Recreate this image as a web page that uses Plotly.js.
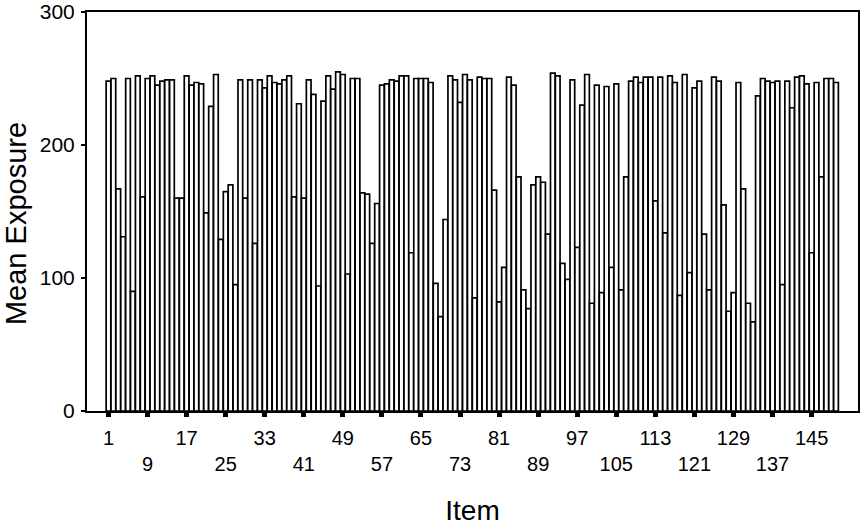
<!DOCTYPE html>
<html>
<head>
<meta charset="utf-8">
<script src="https://cdn.plot.ly/plotly-3.0.1.min.js"></script>
<style>html,body{margin:0;padding:0;background:#fff;}#chart{width:862px;height:532px;}</style>
</head>
<body>
<div id="chart"></div>
<script>
const meanExposure = [
  248,250,167,131,250,90,252,161,250,252,
  245,248,249,249,160,160,252,245,247,246,
  149,229,253,129,165,170,95,249,160,249,
  126,249,243,252,247,246,249,252,161,231,
  160,249,238,94,233,252,242,255,253,103,
  250,250,164,163,126,156,245,246,249,248,
  252,252,119,250,250,250,247,96,71,144,
  252,249,232,253,249,85,251,250,250,166,
  82,108,251,245,176,91,77,170,176,172,
  133,254,252,111,99,249,123,230,253,81,
  245,89,244,108,246,91,176,248,251,247,
  251,251,158,251,134,252,247,87,253,104,
  243,248,133,91,251,248,155,75,89,247,
  167,81,67,237,250,248,247,248,95,248,
  228,251,252,246,119,247,176,250,250,247
];
const items = meanExposure.map((_, i) => i + 1);
const xTickValues = [1,9,17,25,33,41,49,57,65,73,81,89,97,105,113,121,129,137,145];
const xTickLabels = ["1","9","17","25","33","41","49","57","65","73","81","89","97","105","113","121","129","137","145"];
const yTickValues = [0,100,200,300];
const xTitle = "Item";
const yTitle = "Mean Exposure";

const staggered = xTickLabels.map((t, i) => (i % 2 === 0 ? t : "<br>" + t));

const trace = {
  type: "bar",
  x: items,
  y: meanExposure,
  marker: { color: "#ffffff", line: { color: "#000000", width: 1.7 } },
  hoverinfo: "x+y"
};

const layout = {
  width: 862,
  height: 532,
  margin: { l: 87, r: 4, t: 12, b: 121 },
  paper_bgcolor: "#ffffff",
  plot_bgcolor: "#ffffff",
  showlegend: false,
  bargap: 0.04,
  font: { family: "Liberation Sans, Arial, sans-serif", color: "#000000", size: 20 },
  xaxis: {
    range: [-3.4, 154.5],
    tickmode: "array",
    tickvals: xTickValues,
    ticktext: staggered,
    ticks: "outside",
    ticklen: 4,
    tickwidth: 5,
    tickcolor: "#000000",
    ticklabelstandoff: 4,
    showgrid: false,
    zeroline: false,
    showline: true,
    linecolor: "#000000",
    linewidth: 2,
    mirror: true,
    tickfont: { size: 20 },
    title: { text: xTitle, font: { size: 28 }, standoff: 26 }
  },
  yaxis: {
    range: [0, 300],
    tickmode: "array",
    tickvals: yTickValues,
    ticks: "outside",
    ticklen: 4,
    tickwidth: 2,
    tickcolor: "#000000",
    ticklabelstandoff: 2,
    showgrid: false,
    zeroline: false,
    showline: true,
    linecolor: "#000000",
    linewidth: 2,
    mirror: true,
    tickfont: { size: 21 }
  },
  annotations: [{
    text: yTitle,
    xref: "paper", yref: "paper",
    x: -0.092, y: 0.4687,
    xanchor: "center", yanchor: "middle",
    textangle: -90,
    showarrow: false,
    font: { size: 29, color: "#000000" }
  }]
};

Plotly.newPlot("chart", [trace], layout, { displayModeBar: false, staticPlot: true });
</script>
</body>
</html>
